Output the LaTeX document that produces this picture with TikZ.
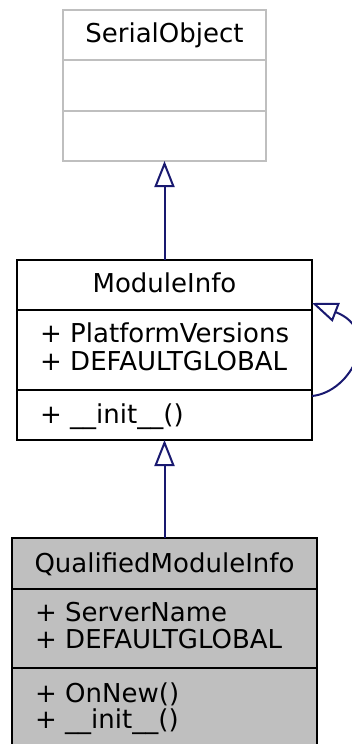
\documentclass[tikz,border=0pt]{standalone}
\usepackage{fontspec}
\setmainfont{DejaVu Sans}
\usetikzlibrary{arrows.meta,calc}
\definecolor{edgeblue}{HTML}{191970}
\definecolor{boxgray}{HTML}{BFBFBF}
\tikzset{
  box/.style={rectangle, draw=black, line width=2pt, inner sep=0pt, outer sep=0pt},
  greybox/.style={box, draw=boxgray},
  txt/.style={inner sep=0pt, anchor=base west, font=\fontsize{26}{29}\selectfont},
  ttl/.style={inner sep=0pt, anchor=base, font=\fontsize{26}{29}\selectfont},
  inherit/.style={draw=edgeblue, line width=2pt, -{Triangle[open, length=26pt, width=20pt, fill=white]}},
}
\begin{document}
\begin{tikzpicture}[x=1pt, y=-1pt]
\useasboundingbox (0,0) rectangle (351,744);
% SerialObject
\node[greybox, minimum width=203pt, minimum height=151pt] (so) at (164.5,85.5) {};
\draw[boxgray, line width=2pt] (63,60) -- (266,60) (63,111) -- (266,111);
\node[ttl] (sot) at (164.5,42) {SerialObject};
% ModuleInfo
\node[box, fill=white, minimum width=295pt, minimum height=180pt] (mi) at (164.5,350) {};
\draw[line width=2pt] (17,310) -- (312,310) (17,390) -- (312,390);
\node[ttl] (mit) at (164.5,292) {ModuleInfo};
\node[txt] (mia1) at (40,342) {+ PlatformVersions};
\node[txt] (mia2) at (40,370) {+ DEFAULTGLOBAL};
\node[txt] (mim1) at (40,423) {+ \_\_init\_\_()};
% QualifiedModuleInfo
\node[box, fill=boxgray, minimum width=305pt, minimum height=210pt] (qm) at (164.5,643) {};
\draw[line width=2pt] (12,589) -- (317,589) (12,668) -- (317,668);
\node[ttl] (qmt) at (164.5,572) {QualifiedModuleInfo};
\node[txt] (qma1) at (35,621) {+ ServerName};
\node[txt] (qma2) at (35,648) {+ DEFAULTGLOBAL};
\node[txt] (qmm1) at (35,702) {+ OnNew()};
\node[txt] (qmm2) at (35,728) {+ \_\_init\_\_()};
% edges
\draw[inherit] (mi.north -| so.south) -- (so.south);
\draw[inherit] (qm.north -| mi.south) -- (mi.south);
\coordinate (la) at (0,396);
\coordinate (lb) at (0,303);
\draw[inherit] (mi.east |- la) .. controls (352,392) and (382,330) .. (mi.east |- lb);
\end{tikzpicture}
\end{document}
